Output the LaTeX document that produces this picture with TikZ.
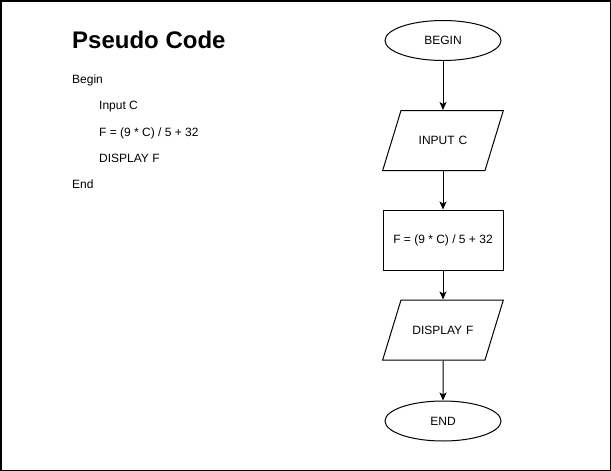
\documentclass[tikz,border=0pt]{standalone}
\usepackage{fontspec}
\setmainfont{Liberation Sans}
\usetikzlibrary{shapes.geometric,arrows.meta}

\begin{document}
\begin{tikzpicture}[x=1pt,y=-1pt,
	term/.style={draw,ellipse,line width=1pt,minimum width=116pt,minimum height=40pt,inner sep=0pt,font=\fontsize{12}{14}\selectfont},
	io/.style={draw,trapezium,trapezium left angle=73,trapezium right angle=107,line width=1pt,inner sep=0pt,text width=84pt,align=center,text height=34.3pt,text depth=25.7pt,font=\fontsize{12}{14}\selectfont},
	proc/.style={draw,rectangle,line width=1pt,minimum width=120pt,minimum height=60pt,inner sep=0pt,font=\fontsize{12}{14}\selectfont},
	code/.style={anchor=base west,inner sep=0pt,font=\fontsize{12}{14}\selectfont},
	heading/.style={anchor=base west,inner sep=0pt,font=\fontsize{24}{28}\selectfont\bfseries},
	flow/.style={-{Stealth[length=8pt,width=7pt,inset=2pt]},line width=1pt}]

	\useasboundingbox (0,0) rectangle (611,471);
	\draw[line width=1.5pt] (0.75,0.75) rectangle (610.25,470.25);

	\node[heading] (title) at (72,48.5) {Pseudo Code};
	\node[code] (l1) at (72,83.5) {Begin};
	\node[code] (l2) at (99,109.5) {Input C};
	\node[code] (l3) at (99,136) {F = (9 * C) / 5 + 32};
	\node[code] (l4) at (99,162) {DISPLAY F};
	\node[code] (l5) at (72,188) {End};

	\node[term] (begin) at (443,40.5) {BEGIN};
	\node[io] (input) at (443,140.5) {INPUT C};
	\node[proc] (calc) at (443,240) {F = (9 * C) / 5 + 32};
	\node[io] (display) at (443,330) {DISPLAY F};
	\node[term] (stop) at (443,421) {END};

	\foreach \i / \j in {
	begin/input,
	input/calc,
	calc/display,
	display/stop}
	{
		\draw[flow] (\i) -- (\j);
	};
\end{tikzpicture}
\end{document}
